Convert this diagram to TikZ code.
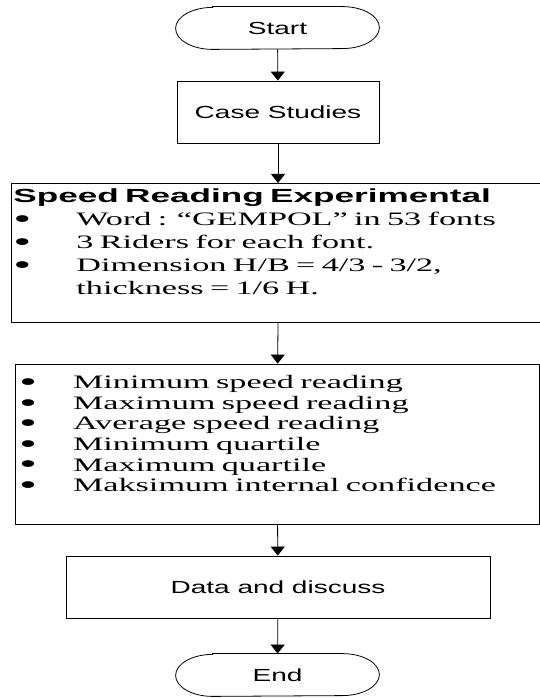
\documentclass[tikz,border=0pt]{standalone}
\usepackage{fontspec}
\setmainfont{Liberation Sans}[FakeStretch=1.6]
\newfontfamily\headfont{Liberation Sans}[FakeStretch=1.85]
\newfontfamily\bodyfont{Liberation Serif}[FakeStretch=1.8,Ligatures=NoCommon]
\usetikzlibrary{arrows.meta}
\newcommand{\bul}[2]{\hspace*{#1}\makebox[0pt]{\smash{\raisebox{-2.8pt}{\scalebox{1.5}{\textbullet}}}}\hspace*{#2}}

\begin{document}
\begin{tikzpicture}[x=1pt,y=1pt,line width=0.8pt,
	term/.style={minimum width=203pt,minimum height=42pt,font=\fontsize{17.5}{20}\selectfont},
	proc/.style={draw,rectangle,inner sep=0pt,font=\fontsize{17.5}{20}\selectfont},
	list/.style={draw,rectangle,inner xsep=2pt,inner ysep=0pt,align=left},
	arr/.style={-{Triangle[width=14pt,length=9pt]}}]
	\useasboundingbox (0,0) rectangle (540,698);
	\clip (0,0) rectangle (540,698);
	\node (start) at (277.5,670)	[term]	{Start};
	\node (case)  at (278,586)	[proc, minimum width=202pt, minimum height=62pt]	{Case Studies};
	\node (speed) at (11,515)	[list, anchor=north west, text width=530pt, minimum height=139pt,
		font=\bodyfont\fontsize{19}{23}\selectfont]
		{{\headfont\bfseries Speed Reading Experimental}\\
		\bul{9pt}{54pt}Word : “GEMPOL” in 53 fonts\\
		\bul{9pt}{54pt}3 Riders for each font.\\
		\bul{9pt}{54pt}Dimension H/B = 4/3 - 3/2,\\
		\hspace*{63pt}thickness = 1/6 H.\\
		\mbox{}};
	\node (stats) at (277,254)	[list, text width=520pt, minimum height=160pt,
		font=\bodyfont\fontsize{19}{20.6}\selectfont]
		{\bul{11pt}{45pt}Minimum speed reading\\
		\bul{11pt}{45pt}Maximum speed reading\\
		\bul{11pt}{45pt}Average speed reading\\
		\bul{11pt}{45pt}Minimum quartile\\
		\bul{11pt}{45pt}Maximum quartile\\
		\bul{11pt}{45pt}Maksimum internal confidence\\
		\mbox{}};
	\node (data)  at (278,111)	[proc, minimum width=424pt, minimum height=62pt]	{Data and discuss};
	\node (stop)  at (277.5,23)	[term]	{End};
	% terminator outlines
	\foreach \n in {start,stop}
		\draw ([xshift=37pt]\n.north west) -- ([xshift=-37pt]\n.north east)
			arc[start angle=90,end angle=-90,x radius=37pt,y radius=21pt]
			-- ([xshift=37pt]\n.south west)
			arc[start angle=270,end angle=90,x radius=37pt,y radius=21pt] -- cycle;
	\draw[arr] (start) -- (case);
	\draw[arr] (case) -- (case |- speed.north);
	\draw[arr] (speed.south -| case) -- (stats);
	\draw[arr] (stats) -- (data);
	\draw[arr] (data) -- (stop);
\end{tikzpicture}
\end{document}
